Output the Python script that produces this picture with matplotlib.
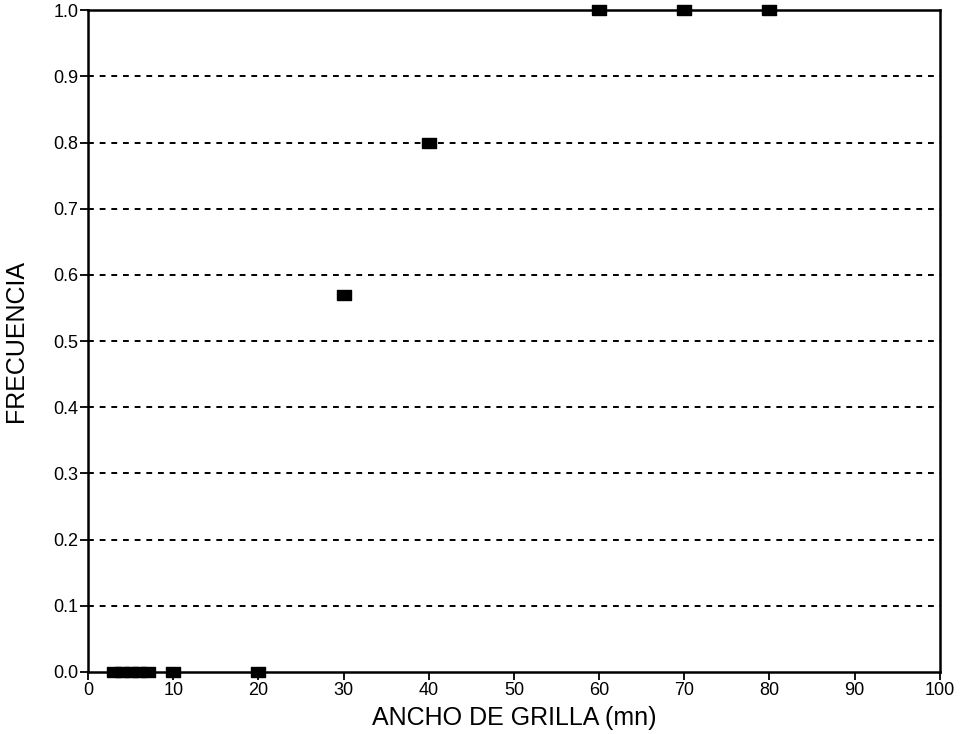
import numpy as np
import matplotlib.pyplot as plt

plt.rcParams.update({"font.family": "Liberation Sans", "font.size": 12})

# datos
ancho = [3, 4, 5, 6, 7, 10, 20, 30, 40, 60, 70, 80]
frecuencia = [0.0, 0.0, 0.0, 0.0, 0.0, 0.0, 0.0, 0.57, 0.80, 1.0, 1.0, 1.0]
xticks = np.arange(0, 101, 10)
yticks = np.round(np.arange(0, 1.01, 0.1), 1)

fig = plt.figure(figsize=(9.61, 7.34), dpi=100)
ax = fig.add_axes([0.0916, 0.0845, 0.8864, 0.9015])

# marcador rectangular (mas ancho que alto)
rect = [(-1.4, -1), (1.4, -1), (1.4, 1), (-1.4, 1), (-1.4, -1)]

for y in yticks[1:-1]:
    ax.axhline(y, color="black", linestyle=(0, (3, 3)), linewidth=1.4, zorder=1)

ax.plot(ancho, frecuencia, linestyle="none", marker=rect, markersize=10,
        color="black", clip_on=False, zorder=3)

ax.set_xlim(0, 100)
ax.set_ylim(0, 1.0)
ax.set_xticks(xticks)
ax.set_yticks(yticks)
ax.set_yticklabels([f"{v:.1f}" for v in yticks])
ax.tick_params(direction="out", length=6, width=1.3, pad=1, labelsize=13)
for s in ax.spines.values():
    s.set_linewidth(1.8)

ax.set_xlabel("ANCHO DE GRILLA (mn)", fontsize=18, labelpad=5)
ax.set_ylabel("FRECUENCIA", fontsize=18, labelpad=18)

plt.savefig("out.png", dpi=100)
